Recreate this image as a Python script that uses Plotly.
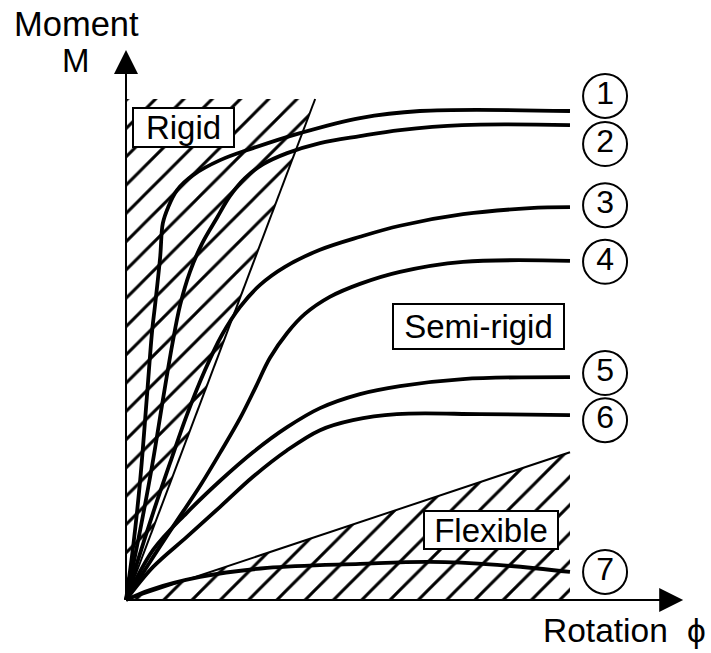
import plotly.graph_objects as go

FONT = "Liberation Sans, Arial, sans-serif"

# Moment-rotation curves (rotation phi, moment M)
c1_x = [0, 1.6, 3.2, 4.7, 5.9, 6.5, 7.7, 8.3, 9.5, 11.5, 15.1, 21.2, 28.6, 39.2, 52.7, 66.2, 100]
c1_y = [0, 10.6, 24.0, 40.5, 53.9, 58.5, 68.5, 75.2, 78.4, 81.8, 84.8, 87.8, 90.2, 93.2, 96.2, 97.6, 97.6]

c2_x = [0, 3.2, 5.9, 8.3, 10.4, 12.2, 14.4, 17.1, 20.5, 23.4, 26.8, 30.9, 36.3, 43.7, 52.7, 61.7, 75.7, 100]
c2_y = [0, 14.0, 26.9, 39.9, 50.9, 58.9, 65.5, 71.1, 76.3, 80.6, 84.2, 87.0, 89.2, 91.2, 92.6, 93.8, 94.8, 94.8]

c3_x = [0, 2.5, 6.1, 9.9, 13.7, 17.8, 21.6, 25.7, 30.2, 35.8, 43.7, 52.7, 61.7, 75.9, 91.0, 100]
c3_y = [0, 7.4, 17.4, 27.3, 36.9, 45.9, 52.9, 58.5, 62.9, 66.5, 69.9, 72.5, 74.7, 77.0, 78.2, 78.4]

c4_x = [0, 5.4, 11.0, 16.7, 21.6, 25.7, 29.1, 32.4, 36.3, 40.3, 45.9, 52.7, 61.7, 75.9, 100]
c4_y = [0, 7.6, 15.2, 22.8, 30.0, 36.3, 42.3, 48.3, 53.3, 57.1, 60.5, 63.1, 65.5, 67.5, 67.7]

c5_x = [0, 6.1, 13.7, 21.2, 28.6, 36.3, 43.7, 52.7, 61.7, 75.9, 100]
c5_y = [0, 10.0, 17.4, 23.8, 29.5, 34.5, 38.3, 41.1, 42.7, 44.1, 44.5]

c6_x = [0, 6.1, 13.7, 21.2, 28.6, 36.3, 43.7, 51.1, 61.0, 79.7, 100]
c6_y = [0, 6.6, 12.6, 18.6, 24.6, 29.9, 33.9, 35.9, 37.1, 37.1, 36.9]

c7_x = [0, 5.4, 16.7, 31.8, 52.7, 68.5, 83.6, 100]
c7_y = [0, 2.0, 4.6, 6.4, 7.2, 7.6, 7.0, 5.6]

curves_x = [c1_x, c2_x, c3_x, c4_x, c5_x, c6_x, c7_x]
curves_y = [c1_y, c2_y, c3_y, c4_y, c5_y, c6_y, c7_y]

# Zone boundaries
rigid_x = [0, 0, 42.6, 0]
rigid_y = [0, 100, 100, 0]
flex_x = [0, 100, 100, 0]
flex_y = [0, 29.5, 0, 0]

# Curve number labels
label_text = ["1", "2", "3", "4", "5", "6", "7"]
label_x = [107.9] * 7
label_y = [100.6, 91.0, 78.8, 67.5, 45.3, 35.9, 5.6]

# Zone names
zone_names = ["Rigid", "Semi-rigid", "Flexible"]
zone_x = [12.95, 79.4, 82.2]
zone_y = [94.3, 54.6, 14.0]
zone_w = [99, 169, 132]
zone_h = [37, 43, 36]

# Axis extents
x_axis_end = 125.5
y_axis_end = 109.8

fig = go.Figure()

hatch = dict(shape="/", size=20, solidity=0.15, fgcolor="black", bgcolor="white", fillmode="replace")
for zx, zy in [(rigid_x, rigid_y), (flex_x, flex_y)]:
    fig.add_trace(go.Scatter(x=zx, y=zy, mode="lines", fill="toself", fillpattern=hatch,
                             line=dict(width=0, color="rgba(0,0,0,0)"), hoverinfo="skip", showlegend=False))

# Zone hypotenuse edges
fig.add_trace(go.Scatter(x=[rigid_x[0], rigid_x[2]], y=[rigid_y[0], rigid_y[2]], mode="lines",
                         line=dict(color="black", width=2), hoverinfo="skip", showlegend=False))
fig.add_trace(go.Scatter(x=[flex_x[0], flex_x[1]], y=[flex_y[0], flex_y[1]], mode="lines",
                         line=dict(color="black", width=2), hoverinfo="skip", showlegend=False))

for cx, cy in zip(curves_x, curves_y):
    fig.add_trace(go.Scatter(x=cx, y=cy, mode="lines",
                             line=dict(color="black", width=3.8, shape="spline", smoothing=1.0),
                             hoverinfo="skip", showlegend=False))

fig.add_trace(go.Scatter(x=label_x, y=label_y, mode="markers+text", text=label_text,
                         textposition="middle center",
                         textfont=dict(family=FONT, size=32, color="black"),
                         marker=dict(symbol="circle-open", size=44, color="black", line=dict(width=2, color="black")),
                         hoverinfo="skip", showlegend=False))

for name, zx, zy, w, h in zip(zone_names, zone_x, zone_y, zone_w, zone_h):
    fig.add_annotation(x=zx, y=zy, xref="x", yref="y", text=name, showarrow=False,
                       font=dict(family=FONT, size=33, color="black"),
                       bgcolor="white", bordercolor="black", borderwidth=2, borderpad=0,
                       width=w, height=h, xanchor="center", yanchor="middle")

# Axes with arrowheads
fig.add_annotation(x=0, y=y_axis_end, ax=0, ay=0, xref="x", yref="y", axref="x", ayref="y",
                   text="", showarrow=True, arrowhead=2, arrowsize=2.4, arrowwidth=2, arrowcolor="black", standoff=0)
fig.add_annotation(x=x_axis_end, y=0, ax=0, ay=0, xref="x", yref="y", axref="x", ayref="y",
                   text="", showarrow=True, arrowhead=2, arrowsize=2.4, arrowwidth=2, arrowcolor="black", standoff=0)

# Axis titles
fig.add_annotation(x=-11.26, y=115.0, xref="x", yref="y", text="Moment", showarrow=False,
                   font=dict(family=FONT, size=34.5, color="black"), xanchor="center", yanchor="middle")
fig.add_annotation(x=-11.26, y=107.6, xref="x", yref="y", text="M", showarrow=False,
                   font=dict(family=FONT, size=33, color="black"), xanchor="center", yanchor="middle")
fig.add_annotation(x=108.0, y=-6.0, xref="x", yref="y", text="Rotation", showarrow=False,
                   font=dict(family=FONT, size=33.5, color="black"), xanchor="center", yanchor="middle")
fig.add_annotation(x=128.6, y=-6.0, xref="x", yref="y", text="ϕ", showarrow=False,
                   font=dict(family=FONT, size=33.5, color="black"), xanchor="center", yanchor="middle")

fig.update_xaxes(range=[-28.38, 131.76], visible=False, showgrid=False, zeroline=False)
fig.update_yaxes(range=[-10.58, 119.76], visible=False, showgrid=False, zeroline=False)
fig.update_layout(width=711, height=653, autosize=False, margin=dict(l=0, r=0, t=0, b=0),
                  plot_bgcolor="white", paper_bgcolor="white", showlegend=False, hovermode=False)

# remove the page's default body margin so the figure fills the window exactly
fig.write_html("out.html", config={"displayModeBar": False, "staticPlot": True},
               post_script="document.body.style.margin='0px';document.body.style.overflow='hidden';")
